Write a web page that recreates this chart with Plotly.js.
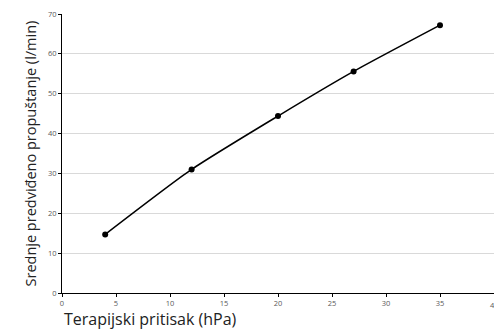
<!DOCTYPE html>
<html><head><meta charset="utf-8">
<script src="https://cdn.plot.ly/plotly-3.0.1.min.js"></script>
<style>body{margin:0;padding:0;background:#fff}#c{width:494px;height:331px}</style>
</head><body><div id="c"></div>
<script>
const pressure = [4, 12, 20, 27, 35];
const leakage = [14.7, 31.0, 44.4, 55.6, 67.2];
const xTicks = [0, 5, 10, 15, 20, 25, 30, 35, 40];
const yTicks = [0, 10, 20, 30, 40, 50, 60, 70];
const xTitle = "Terapijski pritisak (hPa)";
const yTitle = "Srednje predviđeno propuštanje (l/min)";

const trace = {
  x: pressure, y: leakage, type: "scatter", mode: "lines+markers",
  line: {color: "#000", width: 1.5, shape: "spline", smoothing: 0.6},
  marker: {color: "#000", size: 6},
  hoverinfo: "skip"
};
const tickFont = {size: 7.5, color: "#595959"};
const layout = {
  width: 494, height: 331,
  margin: {l: 62, r: 0, t: 14, b: 38},
  paper_bgcolor: "#fff", plot_bgcolor: "#fff",
  showlegend: false,
  font: {family: "Open Sans, sans-serif"},
  xaxis: {
    range: [0, 40], tickvals: xTicks,
    showgrid: false, zeroline: false, showline: true, linecolor: "#000", linewidth: 1,
    ticks: "outside", ticklen: 3, tickcolor: "#000",
    tickfont: tickFont
  },
  yaxis: {
    range: [0, 70], tickvals: yTicks,
    showgrid: true, gridcolor: "#d9d9d9", gridwidth: 1, zeroline: false,
    showline: true, linecolor: "#000", linewidth: 1,
    ticks: "outside", ticklen: 3, tickcolor: "#000",
    tickfont: tickFont
  },
  annotations: [
    {text: String(xTicks[xTicks.length - 1]), xref: "x", yref: "paper",
     x: xTicks[xTicks.length - 1], y: 0, yshift: -5,
     xanchor: "center", yanchor: "top", showarrow: false, font: tickFont},
    {text: xTitle, xref: "paper", yref: "paper", x: 0, y: 0, yshift: -39,
     xanchor: "left", yanchor: "bottom", showarrow: false,
     font: {size: 16, color: "#222"}},
    {text: yTitle, xref: "paper", yref: "paper", x: 0, y: 0.5, xshift: -32,
     xanchor: "center", yanchor: "middle", textangle: -90, showarrow: false,
     font: {size: 14.5, color: "#222"}}
  ]
};
Plotly.newPlot("c", [trace], layout, {staticPlot: true, displayModeBar: false});
</script></body></html>
